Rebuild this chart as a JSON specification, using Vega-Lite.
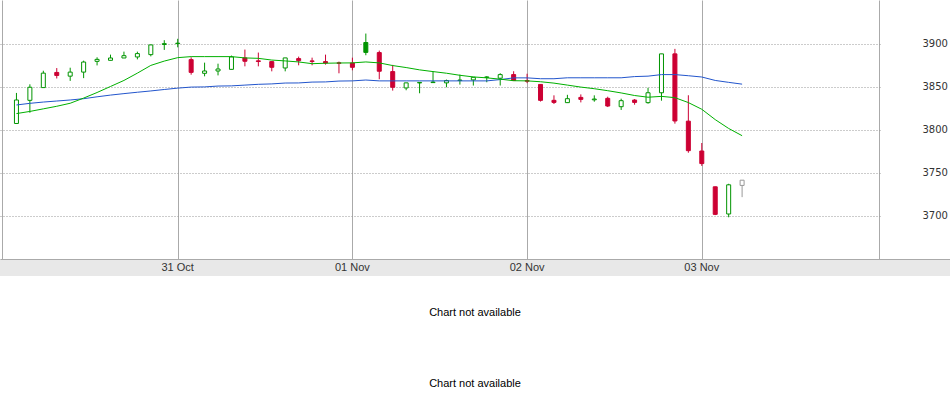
{
  "$schema": "https://vega.github.io/schema/vega-lite/v6.json",
  "padding": 0,
  "background": "white",
  "spacing": 0,
  "config": {"view": {"stroke": null}},
  "resolve": {"scale": {"x": "independent", "y": "independent"}},
  "datasets": {
    "candles": [
      {"i":1,"o":3807.5,"h":3843,"l":3807,"c":3834.8,"m1":3819,"m2":3829},
      {"i":2,"o":3834.4,"h":3853,"l":3820,"c":3849.6,"m1":3821.5,"m2":3830.9},
      {"i":3,"o":3849.2,"h":3868.8,"l":3849,"c":3866,"m1":3824.5,"m2":3832.4},
      {"i":4,"o":3866.8,"h":3871.9,"l":3859.8,"c":3863.3,"m1":3827.5,"m2":3833.6},
      {"i":5,"o":3862.5,"h":3872.3,"l":3857,"c":3867.2,"m1":3831,"m2":3834.8},
      {"i":6,"o":3867.2,"h":3880.5,"l":3860.2,"c":3878.9,"m1":3837,"m2":3836.3},
      {"i":7,"o":3879.7,"h":3884.4,"l":3875,"c":3882,"m1":3843.5,"m2":3838.5},
      {"i":8,"o":3880.9,"h":3887.5,"l":3880.9,"c":3883.6,"m1":3850.5,"m2":3840.5},
      {"i":9,"o":3883.6,"h":3891,"l":3883.6,"c":3886.3,"m1":3857.5,"m2":3842.2},
      {"i":10,"o":3884.8,"h":3891,"l":3882,"c":3888.7,"m1":3866,"m2":3843.8},
      {"i":11,"o":3887.5,"h":3899,"l":3885.5,"c":3898.8,"m1":3875,"m2":3845.3},
      {"i":12,"o":3899.3,"h":3904.3,"l":3893,"c":3900.3,"m1":3880,"m2":3847},
      {"i":13,"o":3900.3,"h":3905.9,"l":3896,"c":3900.8,"m1":3884,"m2":3848.6},
      {"i":14,"o":3881.7,"h":3884.4,"l":3864.2,"c":3866.9,"m1":3885.2,"m2":3849.8},
      {"i":15,"o":3865.8,"h":3878.2,"l":3862.3,"c":3868.5,"m1":3885.2,"m2":3850},
      {"i":16,"o":3868.5,"h":3877,"l":3863.4,"c":3870.8,"m1":3885.2,"m2":3851},
      {"i":17,"o":3870.4,"h":3886.4,"l":3870.4,"c":3884.8,"m1":3885.2,"m2":3851.2},
      {"i":18,"o":3883.7,"h":3893.4,"l":3873.9,"c":3879.8,"m1":3883.7,"m2":3852.1},
      {"i":19,"o":3880.3,"h":3889.9,"l":3873.9,"c":3879.5,"m1":3883.2,"m2":3853},
      {"i":20,"o":3879.4,"h":3879.8,"l":3868.1,"c":3872.8,"m1":3881.2,"m2":3853.5},
      {"i":21,"o":3872,"h":3883.7,"l":3868.1,"c":3883.7,"m1":3880.2,"m2":3854.5},
      {"i":22,"o":3882.9,"h":3885.2,"l":3875.1,"c":3880.5,"m1":3879,"m2":3854.6},
      {"i":23,"o":3880.2,"h":3884,"l":3875.1,"c":3879.6,"m1":3877,"m2":3855.6},
      {"i":24,"o":3879.4,"h":3887.5,"l":3875.9,"c":3877.8,"m1":3877.5,"m2":3855.8},
      {"i":25,"o":3878,"h":3879.4,"l":3865.8,"c":3877.4,"m1":3877.8,"m2":3856.8},
      {"i":26,"o":3877.8,"h":3884,"l":3869.3,"c":3872.8,"m1":3877.9,"m2":3857},
      {"i":27,"o":3901.6,"h":3912,"l":3886.8,"c":3890.1,"m1":3879,"m2":3858},
      {"i":28,"o":3889.9,"h":3892.2,"l":3858.9,"c":3868.2,"m1":3877.9,"m2":3857},
      {"i":29,"o":3867.8,"h":3875.6,"l":3845.7,"c":3849.6,"m1":3874.8,"m2":3857},
      {"i":30,"o":3848.8,"h":3854.7,"l":3846.1,"c":3854.7,"m1":3872.5,"m2":3857},
      {"i":31,"o":3854.6,"h":3855.4,"l":3842.6,"c":3855.2,"m1":3869.8,"m2":3857},
      {"i":32,"o":3855,"h":3868.2,"l":3855,"c":3855.6,"m1":3867.8,"m2":3857},
      {"i":33,"o":3854.7,"h":3858.5,"l":3849.6,"c":3857.4,"m1":3865.9,"m2":3857},
      {"i":34,"o":3857.4,"h":3864.3,"l":3852.7,"c":3858,"m1":3863.5,"m2":3857},
      {"i":35,"o":3858.1,"h":3861.2,"l":3851.6,"c":3861.2,"m1":3861.6,"m2":3857},
      {"i":36,"o":3861,"h":3862.5,"l":3855.4,"c":3861.6,"m1":3860.5,"m2":3857},
      {"i":37,"o":3860.1,"h":3865.9,"l":3851.6,"c":3864.3,"m1":3859,"m2":3858.5},
      {"i":38,"o":3864.3,"h":3868.2,"l":3857,"c":3857.4,"m1":3857.2,"m2":3860.5},
      {"i":39,"o":3857.4,"h":3865.3,"l":3854.4,"c":3856.6,"m1":3857,"m2":3860.5},
      {"i":40,"o":3852.9,"h":3852.9,"l":3833,"c":3834.4,"m1":3856,"m2":3859.5},
      {"i":41,"o":3834.4,"h":3840.2,"l":3830.1,"c":3832,"m1":3854.4,"m2":3859.5},
      {"i":42,"o":3831.7,"h":3840.8,"l":3831.7,"c":3836.3,"m1":3852.1,"m2":3860.6},
      {"i":43,"o":3837.8,"h":3841.3,"l":3832,"c":3835.5,"m1":3849.8,"m2":3860.6},
      {"i":44,"o":3835,"h":3840.2,"l":3832.8,"c":3835.9,"m1":3847.9,"m2":3860.6},
      {"i":45,"o":3836.7,"h":3838.6,"l":3826.6,"c":3827.8,"m1":3845.6,"m2":3860.6},
      {"i":46,"o":3827,"h":3836.3,"l":3823.2,"c":3834,"m1":3843,"m2":3860.6},
      {"i":47,"o":3834.7,"h":3835.9,"l":3829.3,"c":3832,"m1":3840,"m2":3862},
      {"i":48,"o":3831.7,"h":3849,"l":3830.5,"c":3843.2,"m1":3838,"m2":3862.5},
      {"i":49,"o":3843.2,"h":3888.4,"l":3834,"c":3888.4,"m1":3839,"m2":3864.3},
      {"i":50,"o":3888.4,"h":3894.2,"l":3807.3,"c":3810.4,"m1":3837.5,"m2":3864.3},
      {"i":51,"o":3810.2,"h":3840.3,"l":3773.5,"c":3775.9,"m1":3831.8,"m2":3863},
      {"i":52,"o":3775.5,"h":3784.8,"l":3758.2,"c":3760.9,"m1":3824,"m2":3861.5},
      {"i":53,"o":3733.9,"h":3734.2,"l":3701,"c":3701.9,"m1":3812,"m2":3857.5},
      {"i":54,"o":3702.3,"h":3737.4,"l":3698.5,"c":3736.2,"m1":3801.7,"m2":3855.3},
      {"i":55,"o":3735.5,"h":3741.6,"l":3721.9,"c":3741.6,"m1":3793.3,"m2":3853.2}
    ]
  },
  "vconcat": [
    {
      "width": 880,
      "height": 259,
      "data": {"name": "candles"},
      "transform": [
        {"window": [{"op": "lag", "field": "c", "as": "pc"}], "sort": [{"field": "i"}]}
      ],
      "encoding": {
        "x": {
          "field": "i", "type": "quantitative",
          "scale": {"domain": [-0.224, 65.262], "nice": false, "zero": false, "padding": 0},
          "axis": {
            "values": [-0.053, 13, 26, 39, 52, 65.21],
            "grid": true, "gridColor": "#aaaaaa", "gridWidth": 1,
            "labels": false, "ticks": false, "domain": false, "title": null
          }
        }
      },
      "layer": [
        {
          "mark": {"type": "rule", "strokeWidth": 1},
          "encoding": {
            "y": {
              "field": "l", "type": "quantitative", "title": null,
              "scale": {"domain": [3650, 3951], "nice": false, "zero": false, "padding": 0},
              "axis": {
                "orient": "right",
                "values": [3700, 3750, 3800, 3850, 3900],
                "format": "d",
                "grid": true, "gridColor": "#999999", "gridDash": [1, 2], "gridWidth": 1,
                "ticks": false, "domain": false, "labelPadding": 42,
                "labelFont": "DejaVu Sans", "labelFontSize": 10, "labelColor": "#333333",
                "labelBaseline": "middle", "title": null
              }
            },
            "y2": {"field": "h"},
            "color": {
              "condition": [
                {"test": "datum.i == 55", "value": "#999999"},
                {"test": "datum.c < datum.pc", "value": "#cc0033"}
              ],
              "value": "#009400"
            }
          }
        },
        {
          "mark": {"type": "bar", "width": 4, "strokeWidth": 1},
          "encoding": {
            "y": {"field": "o", "type": "quantitative", "title": null},
            "y2": {"field": "c"},
            "stroke": {
              "condition": [
                {"test": "datum.i == 55", "value": "#999999"},
                {"test": "datum.c < datum.pc", "value": "#cc0033"}
              ],
              "value": "#009400"
            },
            "fill": {
              "condition": [
                {"test": "datum.c >= datum.o", "value": "#ffffff"},
                {"test": "datum.c < datum.pc", "value": "#cc0033"}
              ],
              "value": "#009400"
            },
            "fillOpacity": {"value": 1}
          }
        },
        {
          "mark": {"type": "line", "color": "#2255cc", "strokeWidth": 1},
          "encoding": {"y": {"field": "m2", "type": "quantitative", "title": null}}
        },
        {
          "mark": {"type": "line", "color": "#00b000", "strokeWidth": 1},
          "encoding": {"y": {"field": "m1", "type": "quantitative", "title": null}}
        }
      ]
    },
    {
      "width": 950,
      "height": 17,
      "view": {"fill": "#e8e8e8", "stroke": null},
      "data": {"values": [
        {"i": 13, "label": "31 Oct"},
        {"i": 26, "label": "01 Nov"},
        {"i": 39, "label": "02 Nov"},
        {"i": 52, "label": "03 Nov"}
      ]},
      "mark": {"type": "text", "font": "Liberation Sans", "fontSize": 11, "color": "#333333"},
      "encoding": {
        "x": {
          "field": "i", "type": "quantitative",
          "scale": {"domain": [-0.224, 70.47], "nice": false, "zero": false, "padding": 0},
          "axis": {"orient": "top", "domain": true, "domainColor": "#aaaaaa", "domainWidth": 1,
                   "labels": false, "ticks": false, "grid": false, "title": null}
        },
        "text": {"field": "label"}
      }
    },
    {
      "width": 950,
      "height": 74,
      "data": {"values": [{"msg": "Chart not available"}]},
      "mark": {"type": "text", "font": "Liberation Sans", "fontSize": 11, "color": "#000000"},
      "encoding": {"text": {"field": "msg"}}
    },
    {
      "width": 950,
      "height": 68,
      "data": {"values": [{"msg": "Chart not available"}]},
      "mark": {"type": "text", "font": "Liberation Sans", "fontSize": 11, "color": "#000000"},
      "encoding": {"text": {"field": "msg"}}
    }
  ]
}
